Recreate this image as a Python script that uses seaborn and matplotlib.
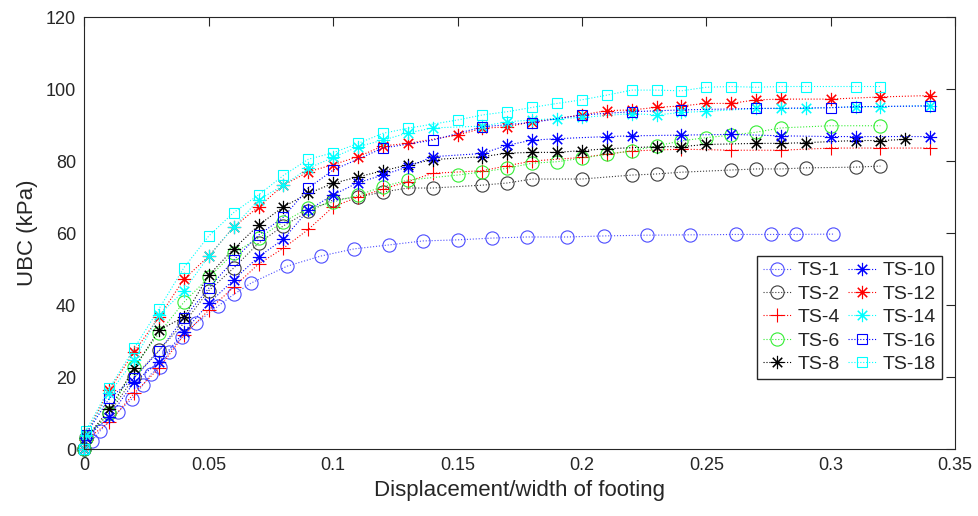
import numpy as np
import matplotlib
matplotlib.use('Agg')
import matplotlib.pyplot as plt
import seaborn as sns
import pandas as pd
from matplotlib.ticker import FuncFormatter

# ----------------- Data -----------------#
ts1_x = [0, 0.003, 0.0062, 0.0135, 0.019, 0.0235, 0.0267, 0.0304, 0.034, 0.0392, 0.0449, 0.0537,
         0.0601, 0.067, 0.0815, 0.095, 0.1084, 0.1225, 0.136, 0.150, 0.164, 0.178, 0.194, 0.209,
         0.226, 0.2435, 0.262, 0.276, 0.286, 0.301]
ts1_y = [0, 2.2, 5, 10.3, 13.9, 17.8, 20.8, 22.8, 26.9, 31.1, 35, 39.7, 43, 46.1, 50.8, 53.6,
         55.6, 56.7, 57.8, 58.1, 58.6, 58.9, 58.9, 59.2, 59.4, 59.5, 59.6, 59.6, 59.6, 59.7]

ts2_x = [0, 0.0005, 0.01, 0.02, 0.03, 0.04, 0.05, 0.06, 0.07, 0.08, 0.09, 0.10, 0.11, 0.12, 0.13,
         0.14, 0.16, 0.17, 0.18, 0.20, 0.22, 0.23, 0.24, 0.26, 0.27, 0.28, 0.29, 0.31, 0.32]
ts2_y = [0, 3, 10, 20, 27.5, 35, 44, 50.3, 57.2, 62, 66, 69.2, 70, 71.4, 72.5, 72.5, 73.3, 73.9,
         75, 75, 76.1, 76.4, 76.9, 77.5, 77.8, 77.8, 78.1, 78.3, 78.6]

ts4_x = [0, 0.0005, 0.01, 0.02, 0.03, 0.04, 0.05, 0.06, 0.07, 0.08, 0.09, 0.10, 0.11, 0.12, 0.13,
         0.14, 0.16, 0.17, 0.18, 0.20, 0.21, 0.22, 0.24, 0.26, 0.28, 0.30, 0.32, 0.34]
ts4_y = [0, 2.5, 7.5, 15.5, 22.5, 31.7, 38.6, 45, 51.4, 55.8, 61, 67.3, 70, 72.2, 74.3, 76.6, 77.3,
         78.7, 80, 81, 81.9, 82.8, 83.3, 83, 83, 83.6, 83.6, 83.6]

ts6_x = [0, 0.0005, 0.01, 0.02, 0.03, 0.04, 0.05, 0.06, 0.07, 0.08, 0.09, 0.10, 0.11, 0.12, 0.13,
         0.15, 0.16, 0.17, 0.18, 0.19, 0.20, 0.21, 0.22, 0.23, 0.24, 0.25, 0.26, 0.27, 0.28, 0.30, 0.32]
ts6_y = [0, 3, 10, 22.8, 32.2, 40.8, 47.7, 54.4, 58.6, 63.1, 66.9, 68.6, 70.5, 72.9, 74.7, 76.1, 77,
         78, 79.4, 79.8, 80.8, 81.9, 82.8, 84.2, 85.6, 86.5, 87.2, 88, 89.2, 89.8, 89.8]

ts8_x = [0, 0.0005, 0.01, 0.02, 0.03, 0.04, 0.05, 0.06, 0.07, 0.08, 0.09, 0.10, 0.11, 0.12, 0.13,
         0.14, 0.16, 0.17, 0.18, 0.19, 0.20, 0.21, 0.23, 0.24, 0.25, 0.27, 0.28, 0.29, 0.31, 0.32, 0.33]
ts8_y = [0, 3, 11, 22.5, 33, 36.7, 48.3, 55.6, 62.2, 67.3, 71, 73.8, 75.6, 77.3, 78.9, 80.4, 81.2,
         82.2, 82.4, 82.4, 82.9, 83.4, 84, 84, 84.6, 84.9, 84.9, 85.1, 85.7, 85.7, 86]

ts10_x = [0, 0.0005, 0.01, 0.02, 0.03, 0.04, 0.05, 0.06, 0.07, 0.08, 0.09, 0.10, 0.11, 0.12, 0.13,
          0.14, 0.16, 0.17, 0.18, 0.19, 0.21, 0.22, 0.24, 0.26, 0.28, 0.30, 0.31, 0.34]
ts10_y = [0, 3, 9, 18.6, 24.2, 32.5, 40.5, 47, 53.4, 58.3, 66.4, 70.6, 74, 76.1, 78.4, 81.2, 82.1,
          84.4, 85.8, 86.2, 86.8, 87, 87.2, 87.4, 87, 86.8, 86.8, 86.8]

ts12_x = [0, 0.0005, 0.01, 0.02, 0.03, 0.04, 0.05, 0.06, 0.07, 0.08, 0.09, 0.10, 0.11, 0.12, 0.13,
          0.15, 0.16, 0.17, 0.18, 0.20, 0.21, 0.22, 0.23, 0.24, 0.25, 0.26, 0.27, 0.28, 0.30, 0.32, 0.34]
ts12_y = [0, 4, 16.4, 27, 36.7, 47.2, 53.6, 61.7, 67.3, 73.3, 77, 79, 81.2, 84.2, 84.9, 87.2, 89.1,
          89.5, 90.9, 92.8, 94, 94.2, 94.9, 95.3, 96, 96, 97, 97.2, 97.2, 97.8, 98.2]

ts14_x = [0, 0.0005, 0.01, 0.02, 0.03, 0.04, 0.05, 0.06, 0.07, 0.08, 0.09, 0.10, 0.11, 0.12, 0.13,
          0.14, 0.16, 0.17, 0.18, 0.19, 0.20, 0.22, 0.23, 0.24, 0.25, 0.27, 0.28, 0.29, 0.31, 0.32, 0.34]
ts14_y = [0, 4, 15.5, 24.7, 37.2, 44, 53.6, 61.7, 69.2, 73.3, 78, 81, 84, 85.8, 87.8, 89.2, 89.7,
          90.9, 91.4, 91.8, 92.1, 93.2, 92.8, 93.5, 93.8, 94.6, 94.6, 94.6, 95.1, 95.1, 95.4]

ts16_x = [0, 0.0005, 0.01, 0.02, 0.03, 0.04, 0.05, 0.06, 0.07, 0.08, 0.09, 0.10, 0.12, 0.14, 0.16,
          0.18, 0.20, 0.22, 0.24, 0.27, 0.30, 0.31, 0.34]
ts16_y = [0, 4, 14.1, 19.7, 27.3, 36.4, 44.7, 52.5, 59.4, 64.4, 72.5, 77.5, 83.6, 85.8, 89.5, 90.7,
          92.8, 93.7, 94.2, 94.6, 94.8, 95.1, 95.3]

ts18_x = [0, 0.0005, 0.01, 0.02, 0.03, 0.04, 0.05, 0.06, 0.07, 0.08, 0.09, 0.10, 0.11, 0.12, 0.13,
          0.15, 0.16, 0.17, 0.18, 0.19, 0.20, 0.21, 0.22, 0.23, 0.24, 0.25, 0.26, 0.27, 0.28, 0.29,
          0.31, 0.32]
ts18_y = [0, 5, 16.9, 28, 39, 50.4, 59.2, 65.7, 70.6, 76, 80.5, 82.3, 84.9, 87.7, 89.1, 91.4, 92.8,
          93.7, 94.9, 96, 97, 98.3, 99.7, 99.7, 99.5, 100.5, 100.7, 100.5, 100.7, 100.7, 100.7, 100.7]

labels = ['TS-1', 'TS-2', 'TS-4', 'TS-6', 'TS-8', 'TS-10', 'TS-12', 'TS-14', 'TS-16', 'TS-18']
xs = [ts1_x, ts2_x, ts4_x, ts6_x, ts8_x, ts10_x, ts12_x, ts14_x, ts16_x, ts18_x]
ys = [ts1_y, ts2_y, ts4_y, ts6_y, ts8_y, ts10_y, ts12_y, ts14_y, ts16_y, ts18_y]

# ----------------- Styles -----------------#
asterisk = (8, 2, 0)
styles = {
    'TS-1':  ('#4d4dff', 'o', 9.5),
    'TS-2':  ('#3c3c3c', 'o', 9.5),
    'TS-4':  ('#ff0000', '+', 10),
    'TS-6':  ('#33ee33', 'o', 9.5),
    'TS-8':  ('#000000', asterisk, 9.5),
    'TS-10': ('#0000ff', asterisk, 9.5),
    'TS-12': ('#ff0000', asterisk, 9.5),
    'TS-14': ('#00ffff', asterisk, 9.5),
    'TS-16': ('#0000ff', 's', 7.5),
    'TS-18': ('#00ffff', 's', 7.5),
}

sns.set_style('white')
plt.rcParams['font.family'] = ['Liberation Sans', 'DejaVu Sans']

fig = plt.figure(figsize=(9.79, 5.16), dpi=100)
ax = fig.add_axes([0.0863, 0.1298, 0.8892, 0.8372])

for lab, x, y in zip(labels, xs, ys):
    color, marker, ms = styles[lab]
    df = pd.DataFrame({'x': x, 'y': y})
    sns.lineplot(data=df, x='x', y='y', ax=ax, sort=False, estimator=None,
                 color=color, linestyle=':', linewidth=0.8, alpha=1,
                 marker=marker, markersize=ms, markerfacecolor='none',
                 markeredgecolor=color, markeredgewidth=0.8, label=lab,
                 clip_on=False)

ax.set_xlim(0, 0.35)
ax.set_ylim(0, 120)
ax.set_xticks(np.arange(0, 0.351, 0.05))
ax.set_yticks(np.arange(0, 121, 20))
ax.xaxis.set_major_formatter(FuncFormatter(lambda v, p: f'{v:g}'))
ax.tick_params(direction='in', length=6.5, width=0.8, top=True, right=True,
               labelsize=13, colors='#262626', pad=6)
for s in ax.spines.values():
    s.set_color('#262626')
    s.set_linewidth(0.8)

ax.set_xlabel('Displacement/width of footing', fontsize=16, color='#262626')
ax.set_ylabel('UBC (kPa)', fontsize=16, color='#262626', labelpad=6)

ax.legend(ncol=2, loc='upper right', bbox_to_anchor=(0.985, 0.447), fontsize=14,
          frameon=True, fancybox=False, edgecolor='#262626', framealpha=1,
          handlelength=1.5, handletextpad=0.3, columnspacing=0.4, labelspacing=0.3,
          borderpad=0.3, borderaxespad=0)

fig.savefig('out.png', dpi=100)
